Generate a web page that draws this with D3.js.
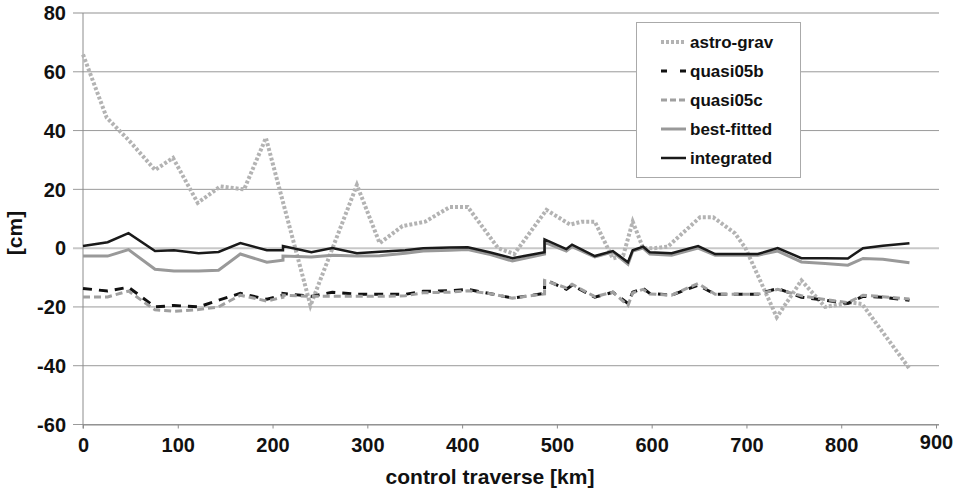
<!DOCTYPE html>
<html>
<head>
<meta charset="utf-8">
<script src="https://cdn.jsdelivr.net/npm/d3@7"></script>
<style>
  body { margin: 0; background: #fff; }
  svg { display: block; font-family: "Liberation Sans", Arial, sans-serif; font-weight: bold; }
</style>
</head>
<body>
<svg width="960" height="492"></svg>
<script>
// stations along the traverse [km] (duplicates are the jumps in the curves)
const km = [0, 26, 48, 76, 96, 122, 143, 166, 194, 211, 211, 241, 263, 289, 313, 340, 359, 387, 406, 430, 453, 487, 487, 510, 516, 540, 559, 575, 580, 591, 598, 621, 649, 667, 712, 733, 758, 783, 807, 823, 844, 872]
const integrated = [0.7, 2, 5.1, -1, -0.7, -1.7, -1.3, 1.7, -0.7, -0.7, 0.7, -1.4, 0, -1.7, -1.2, -0.7, 0, 0.2, 0.3, -1.5, -3.4, -1.4, 3, -0.3, 1.2, -2.7, -1, -4.8, -0.7, 0.5, -1.4, -1.7, 0.7, -2, -2, 0, -3.4, -3.4, -3.5, 0, 0.8, 1.7]
const bestFitted = [-2.7, -2.7, -0.5, -7.2, -7.8, -7.8, -7.5, -2, -4.8, -4.1, -2.7, -3, -2.4, -2.7, -2.6, -1.7, -1, -0.7, -0.5, -2.2, -4.4, -2, 2, -1, 0.5, -3, -1.3, -5.5, -1, 0, -2, -2.4, 0, -2.4, -2.4, -1, -4.7, -5.2, -5.8, -3.5, -3.8, -5]
const quasi05b = [-13.7, -14.6, -13.3, -20, -19.5, -20, -17.7, -15.4, -17.4, -16, -15.4, -16.4, -15, -15.7, -15.7, -15.7, -14.7, -14.5, -14, -15.5, -17, -15.4, -10.6, -14, -12.6, -16.7, -15, -18.8, -15, -13.7, -15.4, -16, -12.6, -15.7, -15.7, -13.7, -16.7, -17.7, -18.8, -16.4, -16.7, -17.7]
const quasi05c = [-16.6, -16.6, -14.6, -21, -21.5, -20.9, -20, -16, -18, -16.7, -16, -16.4, -16.4, -16.4, -16.4, -16.2, -15.2, -15, -14.5, -15.5, -17, -15.6, -11, -13.5, -12.3, -16.5, -15, -19.5, -15.2, -14, -15.6, -16, -12, -15.7, -15.7, -14, -16.2, -17.5, -18.5, -16, -16.5, -17.3]

// astro-gravimetric profile has its own stations
const kmAstro = [0, 25, 48, 76, 95, 121, 145, 170, 193, 240, 289, 313, 337, 361, 387, 406, 438, 455, 489, 514, 526, 540, 559, 570, 580, 591, 603, 617, 651, 665, 688, 699, 732, 758, 783, 811, 822, 872]
const astroGrav = [65.9, 44.4, 36.8, 26.6, 30.7, 15.4, 21, 20, 37.5, -19.5, 21.5, 1.7, 7.5, 9, 14, 14, 0, -2, 13, 8, 9, 9, -3.5, -2.5, 9, 0, 0, 0.5, 10.5, 10.5, 5, 0, -23.5, -11, -20, -18.5, -19, -41]

const yTicks = [80, 60, 40, 20, 0, -20, -40, -60]
const xTicks = [0, 100, 200, 300, 400, 500, 600, 700, 800, 900]
const seriesNames = ["astro-grav", "quasi05b", "quasi05c", "best-fitted", "integrated"]

const svg = d3.select("svg")
const x = d3.scaleLinear().domain([0, 900]).range([83, 936])
const y = d3.scaleLinear().domain([-60, 80]).range([424.5, 13])

const styles = {
  "astro-grav": {color: "#b3b3b3", width: 4, dash: "3,2"},
  "quasi05b": {color: "#111", width: 3, dash: "9,7"},
  "quasi05c": {color: "#a0a0a0", width: 3, dash: "7,4"},
  "best-fitted": {color: "#999", width: 3, dash: null},
  "integrated": {color: "#1a1a1a", width: 2.5, dash: null}
}

// grid lines
svg.append("g").selectAll("line")
  .data(yTicks).enter()
  .append("line")
  .attr("x1", 73).attr("x2", 939)
  .attr("y1", d => y(d)).attr("y2", d => y(d))
  .attr("stroke", d => d === 0 || d === 80 ? "#c8c8c8" : "#9a9a9a")
  .attr("stroke-width", d => d === 0 || d === 80 ? 2 : 1)

// y axis line
svg.append("line")
  .attr("x1", x(0)).attr("x2", x(0))
  .attr("y1", y(80)).attr("y2", y(-60) + 4)
  .attr("stroke", "#8c8c8c")

// x axis
const xAxis = d3.axisBottom(x).tickValues(xTicks).tickSize(4).tickFormat(d3.format("d"))
const xg = svg.append("g").attr("transform", "translate(0," + y(-60) + ")").call(xAxis)
xg.select(".domain").attr("stroke", "#8c8c8c").attr("d", "M" + x(0) + ",0.5H939")
xg.selectAll(".tick line").attr("stroke", "#8c8c8c")
xg.selectAll(".tick text").attr("font-size", 20).attr("font-weight", "bold")
  .attr("fill", "#111").attr("font-family", "Liberation Sans, Arial, sans-serif")
  .attr("y", 13).attr("dy", "0.71em")
xg.selectAll(".tick").filter(d => d === 900).select("text").attr("y", 10)

// y tick labels
svg.append("g").selectAll("text")
  .data(yTicks).enter()
  .append("text")
  .attr("x", 66).attr("y", d => y(d))
  .attr("dy", "0.36em")
  .attr("text-anchor", "end")
  .attr("font-size", 20)
  .attr("fill", "#111")
  .text(d => d)

// axis titles
svg.append("text")
  .attr("x", 490).attr("y", 484)
  .attr("text-anchor", "middle")
  .attr("font-size", 21)
  .attr("fill", "#111")
  .text("control traverse [km]")
svg.append("text")
  .attr("transform", "translate(22,233) rotate(-90)")
  .attr("text-anchor", "middle")
  .attr("font-size", 21)
  .attr("fill", "#111")
  .text("[cm]")

// series
const line = d3.line().x(d => x(d[0])).y(d => y(d[1]))
const seriesData = [
  {name: "astro-grav", pts: d3.zip(kmAstro, astroGrav)},
  {name: "quasi05b", pts: d3.zip(km, quasi05b)},
  {name: "quasi05c", pts: d3.zip(km, quasi05c)},
  {name: "best-fitted", pts: d3.zip(km, bestFitted)},
  {name: "integrated", pts: d3.zip(km, integrated)}
]
svg.append("g").selectAll("path")
  .data(seriesData).enter()
  .append("path")
  .attr("d", d => line(d.pts))
  .attr("fill", "none")
  .attr("stroke", d => styles[d.name].color)
  .attr("stroke-width", d => styles[d.name].width)
  .attr("stroke-dasharray", d => styles[d.name].dash)
  .attr("stroke-linejoin", "miter")

// legend
const legend = svg.append("g")
legend.append("rect")
  .attr("x", 636.5).attr("y", 22.5).attr("width", 164).attr("height", 155)
  .attr("fill", "#fff").attr("stroke", "#aaa")
const ly = d3.scalePoint().domain(seriesNames).range([42, 158])
const item = legend.selectAll("g.item")
  .data(seriesNames).enter()
  .append("g").attr("class", "item")
  .attr("transform", d => "translate(0," + ly(d) + ")")
item.append("line")
  .attr("x1", 661).attr("x2", 686)
  .attr("stroke", d => styles[d].color)
  .attr("stroke-width", d => styles[d].width)
  .attr("stroke-dasharray", d => d === "quasi05b" ? "6,13" : d === "quasi05c" ? "6,3" : styles[d].dash)
item.append("text")
  .attr("x", 690).attr("dy", "0.36em")
  .attr("font-size", 17)
  .attr("fill", "#111")
  .text(d => d)
</script>
</body>
</html>
